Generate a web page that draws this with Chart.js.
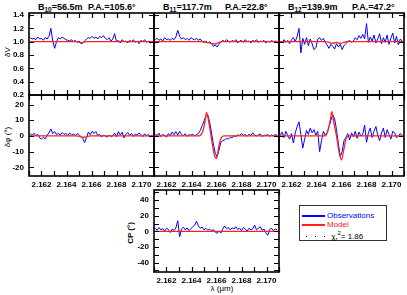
<!DOCTYPE html>
<html>
<head>
<meta charset="utf-8">
<script src="https://cdn.jsdelivr.net/npm/chart.js@4.4.1/dist/chart.umd.min.js"></script>
<style>
  body { margin:0; background:#fff; width:407px; height:295px; overflow:hidden; position:relative;
         font-family:"Liberation Sans", Arial, sans-serif; color:#000; }
  canvas { position:absolute; }
  .t { position:absolute; white-space:nowrap; font-weight:bold; font-size:9px; line-height:12px; }
  .t sub { font-size:6.5px; vertical-align:-2px; line-height:0; }
  .ax { position:absolute; white-space:nowrap; font-size:8px; line-height:10px; transform:translate(-50%,-50%); }
  .rot { transform:translate(-50%,-50%) rotate(-90deg); }
  #legend { position:absolute; left:299px; top:205px; width:86px; height:34px; border:1px solid #333; font-size:8px; }
  #legend .row { position:absolute; left:2px; height:9px; line-height:9px; white-space:nowrap; }
  #legend .ln { display:inline-block; width:23px; height:1.3px; vertical-align:middle; margin-right:2px; }
  #legend .dot { display:inline-block; width:1px; height:1px; background:#000; margin:0 4px; vertical-align:middle; }
</style>
</head>
<body>
<div class="t" style="left:38px;top:1px">B<sub>10</sub>=56.5m</div>
<div class="t" style="left:88px;top:1px">P.A.=105.6°</div>
<div class="t" style="left:163px;top:1px">B<sub>11</sub>=117.7m</div>
<div class="t" style="left:225px;top:1px">P.A.=22.8°</div>
<div class="t" style="left:288px;top:1px">B<sub>12</sub>=139.9m</div>
<div class="t" style="left:352px;top:1px">P.A.=47.2°</div>

<div class="ax rot" style="left:8px;top:52px">δV</div>
<div class="ax rot" style="left:8px;top:137px">δφ (°)</div>
<div class="ax rot" style="left:131px;top:233px;font-weight:bold">CP (°)</div>
<div class="ax" style="left:222px;top:289px">λ (μm)</div>

<div id="legend">
  <div class="row" style="top:5px;color:#0000ff"><span class="ln" style="background:#0000ff"></span>Observations</div>
  <div class="row" style="top:14px;color:#ff2020"><span class="ln" style="background:#ff2020"></span>Model</div>
  <div class="row" style="top:23px"><span class="dot"></span><span class="dot"></span><span class="dot"></span> χ<sub style="font-size:6px">r</sub><sup style="font-size:6px">2</sup>= 1.86</div>
</div>

<script>
// spectral channels (µm)
const WL = [2.16110, 2.16125, 2.16140, 2.16155, 2.16170, 2.16185, 2.16200, 2.16215, 2.16230, 2.16245,
            2.16260, 2.16275, 2.16290, 2.16305, 2.16320, 2.16335, 2.16350, 2.16365, 2.16380, 2.16395,
            2.16410, 2.16425, 2.16440, 2.16455, 2.16470, 2.16485, 2.16500, 2.16515, 2.16530, 2.16545,
            2.16560, 2.16575, 2.16590, 2.16605, 2.16620, 2.16635, 2.16650, 2.16665, 2.16680, 2.16695,
            2.16710, 2.16725, 2.16740, 2.16755, 2.16770, 2.16785, 2.16800, 2.16815, 2.16830, 2.16845,
            2.16860, 2.16875, 2.16890, 2.16905, 2.16920, 2.16935, 2.16950, 2.16965, 2.16980, 2.16995,
            2.17010, 2.17025, 2.17040, 2.17055, 2.17070, 2.17085];

// differential visibility, observed
const DV_B10 = [1.06, 1.04, 1.05, 1.03, 1.07, 1.04, 1.05, 1.02, 1.06, 1.04,
                1.08, 1.20, 1.01, 0.90, 1.00, 1.06, 1.04, 1.07, 1.05, 1.03,
                1.02, 1.01, 1.03, 1.00, 1.02, 0.99, 1.01, 0.97, 0.98, 1.01,
                1.04, 1.06, 1.05, 1.08, 1.05, 1.07, 1.04, 1.08, 1.06, 1.09,
                1.05, 1.03, 1.06, 1.01, 1.04, 1.12, 1.00, 1.02, 0.98, 1.03,
                1.00, 1.01, 0.98, 1.02, 1.00, 1.03, 0.99, 1.01, 0.97, 1.02,
                1.00, 1.03, 0.99, 1.01, 0.98, 1.00];
const DV_B11 = [1.03, 1.05, 1.02, 1.04, 1.01, 1.06, 1.03, 1.04, 1.02, 1.05,
                1.03, 1.07, 1.17, 1.08, 1.04, 1.06, 1.03, 1.05, 1.02, 1.06,
                1.04, 1.03, 1.05, 1.02, 1.04, 1.00, 0.99, 1.01, 0.98, 1.00,
                0.97, 0.93, 0.95, 0.92, 0.96, 0.99, 1.02, 1.00, 1.03, 1.01,
                0.99, 1.02, 1.00, 1.03, 0.98, 1.01, 1.02, 0.99, 1.03, 1.00,
                1.01, 0.98, 1.02, 1.00, 1.03, 0.99, 1.01, 1.00, 1.02, 0.98,
                1.01, 0.99, 1.02, 1.00, 1.01, 0.99];
const DV_B12 = [1.01, 0.98, 1.03, 0.99, 1.02, 0.97, 1.03, 1.06, 1.00, 1.08,
                1.20, 0.83, 1.05, 0.96, 1.06, 0.94, 1.04, 0.97, 0.88, 0.91,
                1.04, 1.06, 1.02, 1.05, 0.99, 0.95, 0.90, 0.96, 0.93, 0.89,
                0.97, 0.92, 0.96, 0.88, 0.94, 0.97, 1.00, 1.02, 0.99, 1.01,
                1.06, 1.03, 1.09, 1.05, 1.11, 1.04, 1.27, 0.99, 1.07, 1.01,
                1.10, 0.98, 1.04, 1.12, 0.97, 1.06, 0.99, 1.10, 0.96, 1.05,
                1.13, 0.98, 1.08, 0.95, 1.04, 1.01];

// differential phase (deg), observed
const DP_B10 = [1.5, 0.5, 1.8, 0.2, 1.0, -1.2, -2.0, -0.8, -1.8, 0.5,
                2.0, 4.5, 1.5, 2.8, 0.8, 1.8, 0.5, 2.2, 1.0, 1.6,
                0.2, 1.9, 0.8, 1.2, 0.3, 1.5, 0.9, -0.5, -1.5, -4.2,
                -1.0, 2.5, 0.8, 3.0, 1.5, 2.8, 0.3, 1.0, -0.6, 0.4,
                0.0, -0.8, 0.6, -0.4, 0.2, 1.8, -0.5, 2.8, 0.6, 2.4,
                -1.2, 1.0, 2.2, 0.4, 1.6, -0.3, 1.2, 0.5, 2.0, 0.8,
                -0.5, 1.4, 0.2, 1.0, -0.3, 0.8];
const DP_B11 = [1.2, 0.3, 1.8, -0.5, 1.0, 0.4, -0.8, 1.5, 0.2, 2.5,
                0.8, 2.8, 0.5, 3.0, 1.0, 0.2, 1.4, -0.3, 0.8, 0.5,
                1.2, 0.0, 0.9, 1.6, 3.5, 6.5, 9.5, 12.5, 13.4, 9.0,
                2.0, -5.0, -11.0, -13.2, -9.0, -4.0, -3.0, -2.5, -1.5, -2.0,
                -0.8, -1.2, 0.2, -0.5, 0.8, 0.3, 1.5, 0.4, 0.9, -0.2,
                1.1, 0.3, 2.0, 0.5, 0.0, 0.8, 1.3, -0.4, 0.6, 0.2,
                1.0, -0.3, 0.7, 0.1, 0.9, 0.4];
const DP_B12 = [0.5, 2.5, -1.0, 3.0, 0.2, -2.0, 1.5, -4.5, 2.0, 6.0,
                9.0, 1.0, -7.8, -2.0, 3.5, 1.0, 5.0, 2.0, 4.0, 0.5,
                3.0, -10.0, -3.0, 3.0, 0.5, 2.0, 6.0, 10.0, 13.4, 11.0,
                4.0, -5.0, -13.0, -10.0, -3.0, -1.0, 1.5, -2.5, 2.0, -0.5,
                3.0, -1.5, 2.5, 0.0, 1.0, 7.0, -4.0, 2.0, 5.0, -1.0,
                3.0, 6.0, 0.5, -3.0, 2.0, 5.0, -1.0, 4.0, 1.0, -2.0,
                3.0, 2.0, -1.0, 0.0, 1.5, 0.5];

// closure phase (deg), observed
const CP_OBS = [4.0, 1.5, 5.0, 2.0, 3.5, 0.5, 4.0, 2.5, -1.5, 3.0,
                1.0, 4.5, 13.5, -6.8, 3.0, 5.5, 2.0, 4.5, 1.0, 3.5,
                6.0, 8.0, 13.0, 7.0, 4.0, 5.5, 2.0, 4.0, 1.5, 3.0,
                0.5, 2.5, -1.0, -2.5, 0.5, -2.0, 3.0, 7.0, 3.5, 5.0,
                2.0, 4.5, 3.0, 6.0, 2.5, 4.0, 1.0, 5.0, 3.0, 0.5,
                4.0, 2.0, 3.5, 8.0, 2.0, 4.0, 6.0, 1.5, 3.0, -2.0,
                -5.0, 2.5, 4.0, 1.0, 3.0, 2.0];

// model curves
const MOD_DV_B10_WL = [2.161, 2.1648, 2.1652, 2.1656, 2.171];
const MOD_DV_B10    = [1.0, 1.0, 0.985, 1.0, 1.0];
const MOD_DV_B11_WL = [2.161, 2.1649, 2.1652, 2.1656, 2.1659, 2.1662, 2.1664, 2.171];
const MOD_DV_B11    = [1.0, 1.0, 0.99, 0.975, 0.965, 0.99, 1.0, 1.0];
const MOD_DV_B12_WL = [2.161, 2.1647, 2.165, 2.1653, 2.1656, 2.1659, 2.1662, 2.1664, 2.171];
const MOD_DV_B12    = [1.0, 1.0, 0.99, 0.975, 0.99, 0.975, 0.99, 1.0, 1.0];
const MOD_DP_B10_WL = [2.161, 2.1648, 2.1654, 2.1659, 2.171];
const MOD_DP_B10    = [0, 0, -0.8, 0, 0];
const MOD_DP_B11_WL = [2.161, 2.1646, 2.1649, 2.1651, 2.1652, 2.1654, 2.1656, 2.1658, 2.166, 2.1662, 2.1664, 2.1666, 2.171];
const MOD_DP_B11    = [0, 0, 3, 10, 15, 8, -2, -11, -14.2, -6, -1, 0, 0];
const MOD_DP_B12_WL = [2.161, 2.1647, 2.1649, 2.1651, 2.16522, 2.1654, 2.1656, 2.1658, 2.166, 2.1662, 2.1664, 2.1666, 2.171];
const MOD_DP_B12    = [0, 0, 3, 10, 15.5, 8, 0, -10, -15.3, -8, -1, 0, 0];
const MOD_CP_WL     = [2.161, 2.171];
const MOD_CP        = [0, 0];

// tick positions (labels are drawn on the multiples given in panel())
const X_TICKS  = [2.161, 2.162, 2.163, 2.164, 2.165, 2.166, 2.167, 2.168, 2.169, 2.170, 2.171];
const DV_TICKS = [0.2, 0.4, 0.6, 0.8, 1.0, 1.2, 1.4];
const DP_TICKS = [-20, -10, 0, 10, 20];
const CP_TICKS = [-50, -40, -30, -20, -10, 0, 10, 20, 30, 40, 50];

const PAD_L = 30, PAD_T = 6, PAD_R = 6, PAD_B = 18, TICK = 5;
const FONT = { family: '"Liberation Sans", Arial, sans-serif', size: 8, weight: 'bold' };

function isMult(v, step) {
  const r = v / step;
  return Math.abs(r - Math.round(r)) < 1e-6;
}

// box + inward ticks on all four sides
const framePlugin = {
  id: 'frame',
  afterDatasetsDraw(chart) {
    const { ctx, chartArea: a, scales: { x, y } } = chart;
    ctx.save();
    ctx.strokeStyle = '#000';
    ctx.lineWidth = 1.2;
    ctx.beginPath();
    x.ticks.forEach(t => {
      const px = Math.round(x.getPixelForValue(t.value)) + 0.5;
      ctx.moveTo(px, a.top); ctx.lineTo(px, a.top + TICK);
      ctx.moveTo(px, a.bottom); ctx.lineTo(px, a.bottom - TICK);
    });
    y.ticks.forEach(t => {
      const py = Math.round(y.getPixelForValue(t.value)) + 0.5;
      ctx.moveTo(a.left, py); ctx.lineTo(a.left + TICK, py);
      ctx.moveTo(a.right, py); ctx.lineTo(a.right - TICK, py);
    });
    ctx.stroke();
    ctx.lineWidth = 1.6;
    ctx.strokeRect(a.left, a.top, a.right - a.left, a.bottom - a.top);
    ctx.restore();
  }
};

function panel(p) {
  const cv = document.createElement('canvas');
  cv.width = p.w + PAD_L + PAD_R;
  cv.height = p.h + PAD_T + PAD_B;
  cv.style.left = (p.x - PAD_L) + 'px';
  cv.style.top = (p.y - PAD_T) + 'px';
  document.body.appendChild(cv);
  new Chart(cv, {
    type: 'line',
    data: {
      datasets: [
        { data: p.modWl.map((w, i) => ({ x: w, y: p.mod[i] })), borderColor: '#ff2020', borderWidth: 1.3,
          pointRadius: 0, cubicInterpolationMode: 'monotone' },
        { data: WL.map((w, i) => ({ x: w, y: p.obs[i] })), borderColor: '#0000ff', borderWidth: 1,
          pointRadius: 0 }
      ]
    },
    options: {
      responsive: false,
      animation: false,
      events: [],
      layout: { padding: { left: 0, top: PAD_T, right: PAD_R, bottom: 0 } },
      plugins: { legend: { display: false }, tooltip: { enabled: false } },
      scales: {
        x: {
          type: 'linear', min: 2.161, max: 2.171,
          grid: { display: false, drawTicks: false }, border: { display: false },
          afterBuildTicks: s => { s.ticks = X_TICKS.map(v => ({ value: v })); },
          ticks: { display: p.showX, autoSkip: false, maxRotation: 0, padding: 4,
                   font: FONT, color: '#000',
                   callback: v => isMult(v, 0.002) ? v.toFixed(3) : '' },
          afterFit: s => { s.height = PAD_B; s.paddingLeft = 0; s.paddingRight = 0; }
        },
        y: {
          type: 'linear', min: p.ymin, max: p.ymax,
          grid: { display: false, drawTicks: false }, border: { display: false },
          afterBuildTicks: s => { s.ticks = p.ticks.map(v => ({ value: v })); },
          ticks: { display: p.showY, autoSkip: false, padding: 5,
                   font: FONT, color: '#000',
                   callback: v => isMult(v, p.ylab) ? p.fmt(v) : '' },
          afterFit: s => { s.width = PAD_L; s.paddingTop = 0; s.paddingBottom = 0; }
        }
      }
    },
    plugins: [framePlugin]
  });
}

const fmt1 = v => v.toFixed(1);
const fmt0 = v => String(Math.round(v));
const COLS = [29, 154, 279];
const DV = { ymin: 0.2, ymax: 1.43, ticks: DV_TICKS, ylab: 0.2, fmt: fmt1 };
const DP = { ymin: -25.5, ymax: 26.1, ticks: DP_TICKS, ylab: 10, fmt: fmt0 };

panel({ x: COLS[0], y: 13, w: 125, h: 82, showX: false, showY: true,  obs: DV_B10, mod: MOD_DV_B10, modWl: MOD_DV_B10_WL, ...DV });
panel({ x: COLS[1], y: 13, w: 125, h: 82, showX: false, showY: false, obs: DV_B11, mod: MOD_DV_B11, modWl: MOD_DV_B11_WL, ...DV });
panel({ x: COLS[2], y: 13, w: 125, h: 82, showX: false, showY: false, obs: DV_B12, mod: MOD_DV_B12, modWl: MOD_DV_B12_WL, ...DV });
panel({ x: COLS[0], y: 95, w: 125, h: 81, showX: true,  showY: true,  obs: DP_B10, mod: MOD_DP_B10, modWl: MOD_DP_B10_WL, ...DP });
panel({ x: COLS[1], y: 95, w: 125, h: 81, showX: true,  showY: false, obs: DP_B11, mod: MOD_DP_B11, modWl: MOD_DP_B11_WL, ...DP });
panel({ x: COLS[2], y: 95, w: 125, h: 81, showX: true,  showY: false, obs: DP_B12, mod: MOD_DP_B12, modWl: MOD_DP_B12_WL, ...DP });
panel({ x: COLS[1], y: 190, w: 125, h: 82, showX: true, showY: true, obs: CP_OBS, mod: MOD_CP, modWl: MOD_CP_WL,
        ymin: -52, ymax: 53, ticks: CP_TICKS, ylab: 20, fmt: fmt0 });
</script>
</body>
</html>
